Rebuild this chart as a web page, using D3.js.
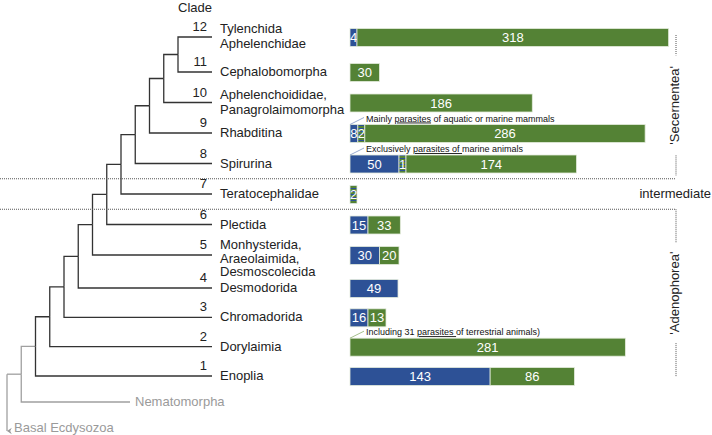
<!DOCTYPE html>
<html>
<head>
<meta charset="utf-8">
<script src="https://cdn.jsdelivr.net/npm/d3@7"></script>
<style>
  body { margin: 0; background: #fff; }
  svg text { font-family: "Liberation Sans", Arial, sans-serif; }
</style>
</head>
<body>
<div id="content"></div>
<script>
// clade numbers, top to bottom as in the tree
const clades = [12, 11, 10, 9, 8, 7, 6, 5, 4, 3, 2, 1];
const cladeNames = [
  ['Tylenchida', 'Aphelenchidae'],
  ['Cephalobomorpha'],
  ['Aphelenchoididae,', 'Panagrolaimomorpha'],
  ['Rhabditina'],
  ['Spirurina'],
  ['Teratocephalidae'],
  ['Plectida'],
  ['Monhysterida,', 'Araeolaimida,', 'Desmoscolecida'],
  ['Desmodorida'],
  ['Chromadorida'],
  ['Dorylaimia'],
  ['Enoplia'],
];
// species counts per clade (blue / striped / green segments)
const marine      = [4, 0, 0, 8, 50, 0, 15, 30, 49, 16, 0, 143];
const mixed       = [0, 0, 0, 2, 1, 2, 0, 0, 0, 0, 0, 0];
const terrestrial = [318, 30, 186, 286, 174, 0, 33, 20, 0, 13, 281, 86];

// small notes above some bars: [before, underlined, after]
const noteClades = [9, 8, 2];
const noteTexts = [
  ['Mainly ', 'parasites', ' of aquatic or marine mammals'],
  ['Exclusively ', 'parasites of ', 'marine animals'],
  ['Including 31 ', 'parasites ', 'of terrestrial animals)'],
];

const groupNames = ["'Secernentea'", 'intermediate', "'Adenophorea'"];
const groupClades = [[12, 8], [7, 7], [6, 1]];

const outgroups = ['Nematomorpha', 'Basal Ecdysozoa'];

const colors = { marine: '#2d5196', mixed: 'stripes', terrestrial: '#548235' };

const width = 712, height = 435;
const svg = d3.select('#content').append('svg')
  .attr('width', width).attr('height', height);

const defs = svg.append('defs');
const pat = defs.append('pattern').attr('id', 'stripes')
  .attr('patternUnits', 'userSpaceOnUse').attr('width', 4).attr('height', 3);
pat.append('rect').attr('width', 4).attr('height', 3).attr('fill', '#548235');
pat.append('rect').attr('y', 2).attr('width', 4).attr('height', 1).attr('fill', '#2d5196');
defs.append('marker').attr('id', 'arrow')
  .attr('viewBox', '0 0 10 10').attr('refX', 5).attr('refY', 9)
  .attr('markerWidth', 8).attr('markerHeight', 8).attr('orient', 'auto-start-reverse')
  .attr('markerUnits', 'userSpaceOnUse')
  .append('path').attr('d', 'M1,3 L5,9 L9,3 L5,5 Z').attr('fill', '#999');

// rows (spacing follows the number of label lines)
const y = d3.scaleLinear().domain([12, 11, 5, 4, 1]).range([37, 72, 255, 288, 376]);
const tipX = 212;
const nodeX = d3.scaleLinear().domain([1, 13]).range([178, 7]);
const nemY = y(1) + 26;
const basalY = y(1) + 55;

// ---- tree topology: a ladder from clade 12/11 down to the outgroups
let topo = { children: [{ clade: 12 }, { clade: 11 }] };
clades.slice(2).forEach(c => { topo = { children: [topo, { clade: c }] }; });
topo = { children: [topo, { name: outgroups[0] }] };
topo = { children: [topo, { name: outgroups[1], basal: true }] };

const root = d3.hierarchy(topo);
root.eachAfter(node => {
  if (!node.children) {
    node.x = node.data.clade ? tipX : 130;
    node.y = node.data.clade ? y(node.data.clade) : nemY;
  } else {
    node.x = nodeX(node.height);
    const kids = node.children.filter(k => !k.data.basal);
    node.y = d3.mean(kids, k => k.y);
  }
});

const treeG = svg.append('g');
const links = root.links().filter(l => !l.target.data.basal);
treeG.selectAll('path.link').data(links).join('path')
  .attr('class', 'link')
  .attr('d', l => `M${l.source.x},${l.source.y}V${l.target.y}H${l.target.x}`)
  .attr('fill', 'none')
  .attr('stroke', l => l.source.height >= 12 ? '#a0a0a0' : '#333')
  .attr('stroke-width', 1.3);

// basal arrow
treeG.append('path')
  .attr('d', `M${root.x},${root.y}V${basalY}`)
  .attr('stroke', '#a0a0a0').attr('stroke-width', 1.3).attr('fill', 'none')
  .attr('marker-end', 'url(#arrow)');
treeG.append('text').attr('x', root.x + 7).attr('y', basalY + 1)
  .attr('font-size', 13).attr('fill', '#9a9a9a').text(outgroups[1]);
treeG.append('text').attr('x', 135).attr('y', nemY + 4)
  .attr('font-size', 13).attr('fill', '#9a9a9a').text(outgroups[0]);

// clade header, numbers and names
svg.append('text').attr('x', tipX - 34).attr('y', 12)
  .attr('font-size', 13).attr('fill', '#222').text('Clade');

const rows = svg.selectAll('g.row').data(clades).join('g').attr('class', 'row');
rows.append('text')
  .attr('x', tipX - 5).attr('y', c => y(c) - 6)
  .attr('text-anchor', 'end').attr('font-size', 13).attr('fill', '#222')
  .text(c => c);
rows.append('text')
  .attr('font-size', 13).attr('fill', '#222')
  .each(function(c, i) {
    const lines = cladeNames[i];
    const n = lines.length;
    const y0 = n > 1 ? y(c) - 4 - (n - 2) * 2 : y(c) + 4;
    const lh = n > 2 ? 13.5 : 15;
    d3.select(this).selectAll('tspan').data(lines).join('tspan')
      .attr('x', tipX + 8)
      .attr('y', (d, j) => y0 + j * lh)
      .text(d => d);
  });

// ---- stacked bars
const barX0 = 350;
const xw = d3.scaleLinear().domain([0, 100]).range([0, 98]);
const minW = v => String(v).length > 1 ? 18 : 7;

const segs = clades.map((c, i) => {
  let x = barX0;
  return [['marine', marine[i]], ['mixed', mixed[i]], ['terrestrial', terrestrial[i]]]
    .filter(s => s[1] > 0)
    .map(([key, v]) => {
      const w = Math.max(xw(v), minW(v));
      const seg = { clade: c, key, v, x, w };
      x += w;
      return seg;
    });
});

const barH = 18;
const barG = svg.append('g');
const segSel = barG.selectAll('g.seg').data(segs.flat()).join('g').attr('class', 'seg');
segSel.append('rect')
  .attr('x', d => d.x).attr('y', d => y(d.clade) + 0.5 - barH / 2)
  .attr('width', d => d.w).attr('height', barH)
  .attr('fill', d => d.key === 'mixed' ? 'url(#stripes)' : colors[d.key])
  .attr('stroke', '#e4ebdc').attr('stroke-width', 0.8);
segSel.append('text')
  .attr('x', d => d.x + d.w / 2).attr('y', d => y(d.clade) + 5)
  .attr('text-anchor', 'middle').attr('font-size', 13).attr('fill', '#fff')
  .text(d => d.v);

// notes above bars
noteClades.forEach((c, i) => {
  const top = y(c) + 0.5 - barH / 2;
  const first = segs[clades.indexOf(c)][0];
  const g = svg.append('g');
  g.append('line')
    .attr('x1', barX0).attr('y1', top)
    .attr('x2', barX0 + 14).attr('y2', top - 7)
    .attr('stroke', first.key === 'marine' ? '#7f95c4' : '#8fb070').attr('stroke-width', 0.8);
  const t = g.append('text').attr('x', barX0 + 16).attr('y', top - 3)
    .attr('font-size', 9).attr('fill', '#111');
  noteTexts[i].forEach((part, j) => {
    t.append('tspan').text(part)
      .attr('text-decoration', j === 1 ? 'underline' : null);
  });
});

// ---- group separators and brackets
const bx = 676;
const sep = [(y(8) + y(7)) / 2, (y(7) + y(6)) / 2];
const dotted = { stroke: '#555', 'stroke-width': 1, 'stroke-dasharray': '1,1' };
const dline = (x1, y1, x2, y2) => {
  const l = svg.append('line').attr('x1', x1).attr('y1', y1).attr('x2', x2).attr('y2', y2);
  Object.entries(dotted).forEach(([k, v]) => l.attr(k, v));
  return l;
};
sep.forEach(s => dline(0, s, bx, s));

const brackets = [
  { name: groupNames[0], top: y(groupClades[0][0]) - 2, bottom: sep[0] - 3 },
  { name: groupNames[2], top: sep[1], bottom: y(groupClades[2][1]) + 1 },
];
brackets.forEach(b => {
  const cy = (b.top + b.bottom) / 2;
  const gap = 50;
  dline(bx, b.top, bx, cy - gap);
  dline(bx, cy + gap, bx, b.bottom);
  svg.append('text')
    .attr('transform', `translate(${bx + 3},${cy}) rotate(-90)`)
    .attr('text-anchor', 'middle').attr('font-size', 13).attr('fill', '#222')
    .text(b.name);
});
svg.append('text').attr('x', width - 1).attr('y', y(groupClades[1][0]) + 4)
  .attr('text-anchor', 'end').attr('font-size', 13).attr('fill', '#222')
  .text(groupNames[1]);
</script>
</body>
</html>
